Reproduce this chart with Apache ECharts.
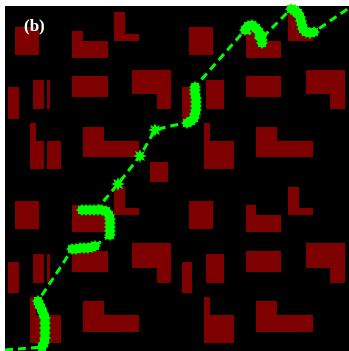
<!DOCTYPE html>
<html>
<head>
<meta charset="utf-8">
<script src="https://cdn.jsdelivr.net/npm/echarts@6/dist/echarts.min.js"></script>
<style>
  html, body { margin: 0; padding: 0; background: #ffffff; }
  #map { width: 349px; height: 351px; }
</style>
</head>
<body>
<div id="map"></div>
<script>
// obstacles as [x0, y0, x1, y1] in map pixels (L-shapes are two rects)
const obstacles = [
  [15, 27, 39, 55], [72, 31, 83, 41], [72, 41, 108, 58],
  [114, 12, 125, 41], [114, 34, 139, 41], [72, 76, 108, 97],
  [132, 70, 171, 94], [157, 94, 171, 109], [8, 87, 19, 119],
  [33, 80, 44, 109], [47, 80, 50, 109], [30, 123, 36, 141],
  [30, 141, 44, 169], [47, 141, 61, 169], [83, 127, 104, 141],
  [83, 141, 139, 157], [150, 162, 168, 182],
  [189, 27, 213, 55], [246, 29, 256, 41], [246, 41, 281, 58],
  [288, 12, 299, 41], [288, 33, 313, 41], [246, 76, 281, 97],
  [306, 70, 345, 94], [330, 94, 345, 109], [182, 87, 192, 119],
  [206, 80, 224, 109], [204, 123, 210, 141], [204, 141, 234, 169],
  [256, 127, 277, 141], [256, 141, 313, 157],
  [15, 201, 39, 229], [72, 205, 83, 215], [72, 215, 108, 232],
  [114, 186, 125, 215], [114, 208, 139, 215], [72, 251, 108, 272],
  [132, 243, 171, 268], [157, 268, 171, 283], [8, 262, 19, 293],
  [33, 254, 44, 283], [47, 254, 50, 283], [30, 297, 36, 315],
  [30, 315, 44, 343], [47, 315, 61, 343], [83, 301, 104, 315],
  [83, 315, 139, 332],
  [189, 201, 213, 229], [246, 205, 256, 215], [246, 215, 281, 232],
  [288, 187, 299, 215], [288, 208, 313, 215], [246, 251, 281, 272],
  [306, 243, 345, 268], [330, 268, 345, 283], [182, 262, 192, 293],
  [206, 254, 224, 283], [204, 297, 210, 315], [204, 315, 234, 343],
  [256, 301, 277, 315], [256, 315, 313, 332]
];

// planned path (dashed)
const pathPoints = [
  [5, 350], [42, 347], [45, 325], [38, 301], [50, 283], [62, 265], [72, 249],
  [95, 246], [110, 235], [110, 216], [96, 210], [118, 184], [140, 156],
  [155, 130], [170, 126], [187, 123], [196, 105], [195, 87], [245, 30],
  [262, 42], [266, 34], [290, 10], [302, 25], [314, 32], [349, 8]
];

// dense point clusters along the path
const clusterA = [[42, 347], [44, 343], [45, 338], [45, 333], [45, 328], [45, 323], [45, 318], [43, 313], [41, 308], [39, 304], [38, 301]];
const clusterB = [[72, 249], [76, 249], [80, 248], [84, 248], [88, 248], [92, 247], [95, 246]];
const clusterC = [[110, 235], [110, 231], [110, 227], [110, 223], [110, 219], [109, 215], [106, 211], [102, 210], [98, 210], [94, 210], [90, 210], [86, 210], [82, 210]];
const clusterD = [[187, 123], [191, 121], [194, 118], [195, 114], [196, 110], [196, 106], [196, 102], [196, 98], [195, 94], [195, 90], [195, 87]];
const clusterE = [[245, 30], [248, 26], [252, 25], [256, 28], [259, 32], [261, 36], [262, 40], [262, 43]];
const clusterF = [[291, 9], [295, 10], [298, 13], [300, 17], [301, 21], [302, 25], [303, 29], [306, 32], [310, 33], [314, 32]];
const blobs = [[118, 184], [140, 156], [155, 130]];

const GREEN = '#00ff00';
// 8-point star, looks like the asterisk markers of the original
const STAR = 'path://M10,0L4.6,1.9L7.1,7.1L1.9,4.6L0,10L-1.9,4.6L-7.1,7.1L-4.6,1.9L-10,0L-4.6,-1.9L-7.1,-7.1L-1.9,-4.6L0,-10L1.9,-4.6L7.1,-7.1L4.6,-1.9Z';

const chart = echarts.init(document.getElementById('map'));

const clusterSeries = [clusterA, clusterB, clusterC, clusterD, clusterE, clusterF].map(pts => ({
  type: 'line',
  data: pts,
  showSymbol: true,
  showAllSymbol: true,
  symbol: STAR,
  symbolSize: 13,
  itemStyle: { color: GREEN },
  lineStyle: { color: GREEN, width: 9, cap: 'round', join: 'round' },
  silent: true,
  z: 4
}));

chart.setOption({
  animation: false,
  backgroundColor: '#ffffff',
  grid: {
    left: 5, top: 6, right: 0, bottom: 0,
    show: true, backgroundColor: '#000000', borderWidth: 0
  },
  xAxis: { type: 'value', min: 5, max: 349, show: false },
  yAxis: { type: 'value', min: 6, max: 351, inverse: true, show: false },
  graphic: [{
    type: 'text', left: 24, top: 18, z: 10,
    style: { text: '(b)', fill: '#ffffff', font: 'bold 17px "Liberation Serif", serif' }
  }],
  series: [
    {
      type: 'custom',
      data: obstacles,
      encode: { x: [0, 2], y: [1, 3] },
      silent: true,
      z: 1,
      renderItem: (params, api) => {
        const p0 = api.coord([api.value(0), api.value(1)]);
        const p1 = api.coord([api.value(2), api.value(3)]);
        return {
          type: 'rect',
          shape: {
            x: Math.min(p0[0], p1[0]),
            y: Math.min(p0[1], p1[1]),
            width: Math.abs(p1[0] - p0[0]),
            height: Math.abs(p1[1] - p0[1])
          },
          style: { fill: '#7f0000' }
        };
      }
    },
    {
      type: 'line',
      data: pathPoints,
      showSymbol: false,
      silent: true,
      z: 3,
      lineStyle: { color: GREEN, width: 3, type: [8, 5] }
    },
    ...clusterSeries,
    {
      type: 'scatter',
      data: blobs,
      symbol: STAR,
      symbolSize: 14,
      itemStyle: { color: GREEN, opacity: 1 },
      silent: true,
      z: 5
    }
  ]
});

window.addEventListener('resize', () => chart.resize());
</script>
</body>
</html>
